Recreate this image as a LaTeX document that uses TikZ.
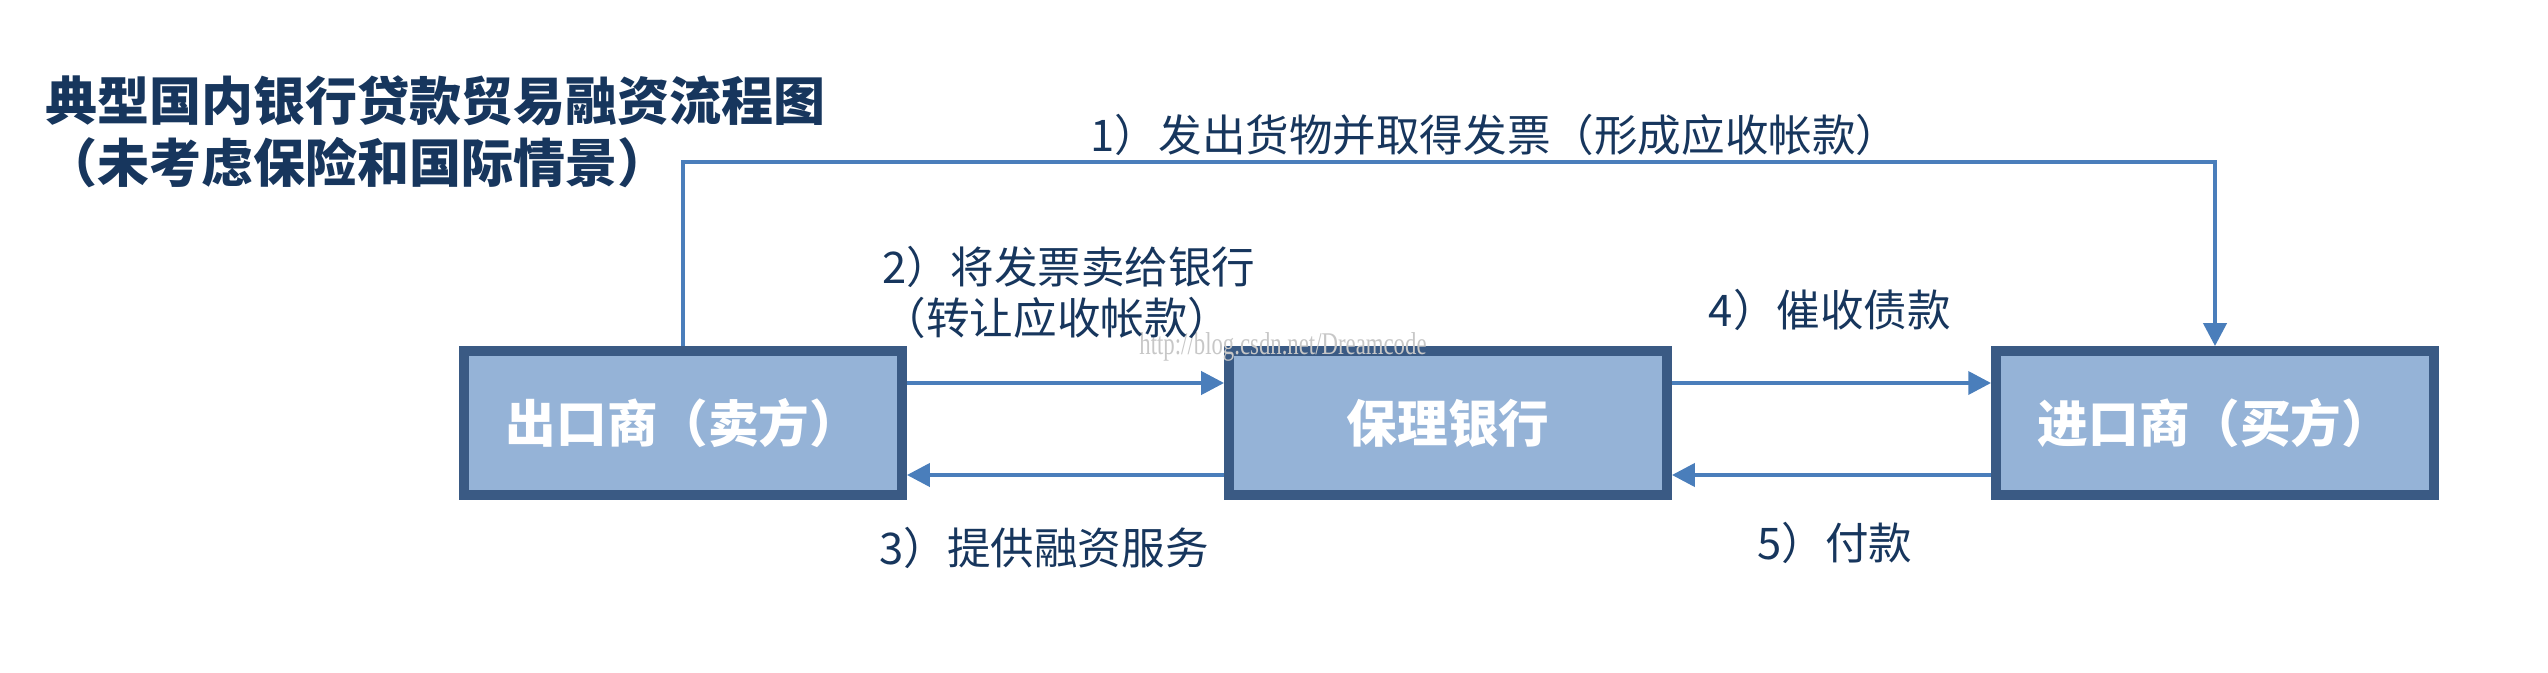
\documentclass[tikz,border=0pt]{standalone}
\usepackage{fontspec}
\setmainfont{Noto Sans CJK SC}
\newfontfamily\wmfont{Liberation Serif}[FakeStretch=0.72]
\usetikzlibrary{arrows.meta}
\definecolor{boxfill}{HTML}{95B3D7}
\definecolor{boxline}{HTML}{3A5A84}
\definecolor{flowblue}{HTML}{4A7EBB}
\definecolor{labelnavy}{HTML}{17365D}
\begin{document}
\begin{tikzpicture}[
		party/.style={draw=boxline, fill=boxfill, line width=2.8pt, minimum width=4.38cm, minimum height=1.44cm, text=white, font=\bfseries\fontsize{14.4}{16}\selectfont},
		lbl/.style={text=labelnavy, inner sep=0pt, font=\fontsize{12.4}{14.5}\selectfont},
		flow/.style={draw=flowblue, line width=1.2pt, -{Triangle[length=6.5pt, width=6.5pt]}}
	]
		\useasboundingbox (0,0) rectangle (25.48,6.72);
		% title
		\node[text=labelnavy, inner sep=0pt, anchor=west, align=left, font=\bfseries\fontsize{14.8}{17.6}\selectfont] (title) at (0.45,5.40) {典型国内银行贷款贸易融资流程图\\（未考虑保险和国际情景）};
		% the three parties
		\node[party] (seller) at (6.83,2.49) {出口商（卖方）};
		\node[party] (bank) at (14.48,2.49) {保理银行};
		\node[party] (buyer) at (22.15,2.49) {进口商（买方）};
		\node[text=black!22, inner sep=0pt, font=\wmfont\fontsize{9}{9}\selectfont] (wm) at (12.83,3.25) {http://blog.csdn.net/Dreamcode};
		% flows
		\draw[flow] (seller.north) -- ++(0,1.84) -| (buyer.north);
		\node[lbl] (step1) at (14.95,5.37) {1）发出货物并取得发票（形成应收帐款）};
		\draw[flow] ([yshift=0.40cm]seller.east) -- ([yshift=0.40cm]bank.west);
		\node[lbl, align=left, anchor=west] (step2) at (8.82,3.80) {2）将发票卖给银行\\（转让应收帐款）};
		\draw[flow] ([yshift=-0.52cm]bank.west) -- ([yshift=-0.52cm]seller.east);
		\node[lbl] (step3) at (10.44,1.24) {3）提供融资服务};
		\draw[flow] ([yshift=0.40cm]bank.east) -- ([yshift=0.40cm]buyer.west);
		\node[lbl] (step4) at (18.30,3.62) {4）催收债款};
		\draw[flow] ([yshift=-0.52cm]buyer.west) -- ([yshift=-0.52cm]bank.east);
		\node[lbl] (step5) at (18.35,1.29) {5）付款};
	\end{tikzpicture}
\end{document}
